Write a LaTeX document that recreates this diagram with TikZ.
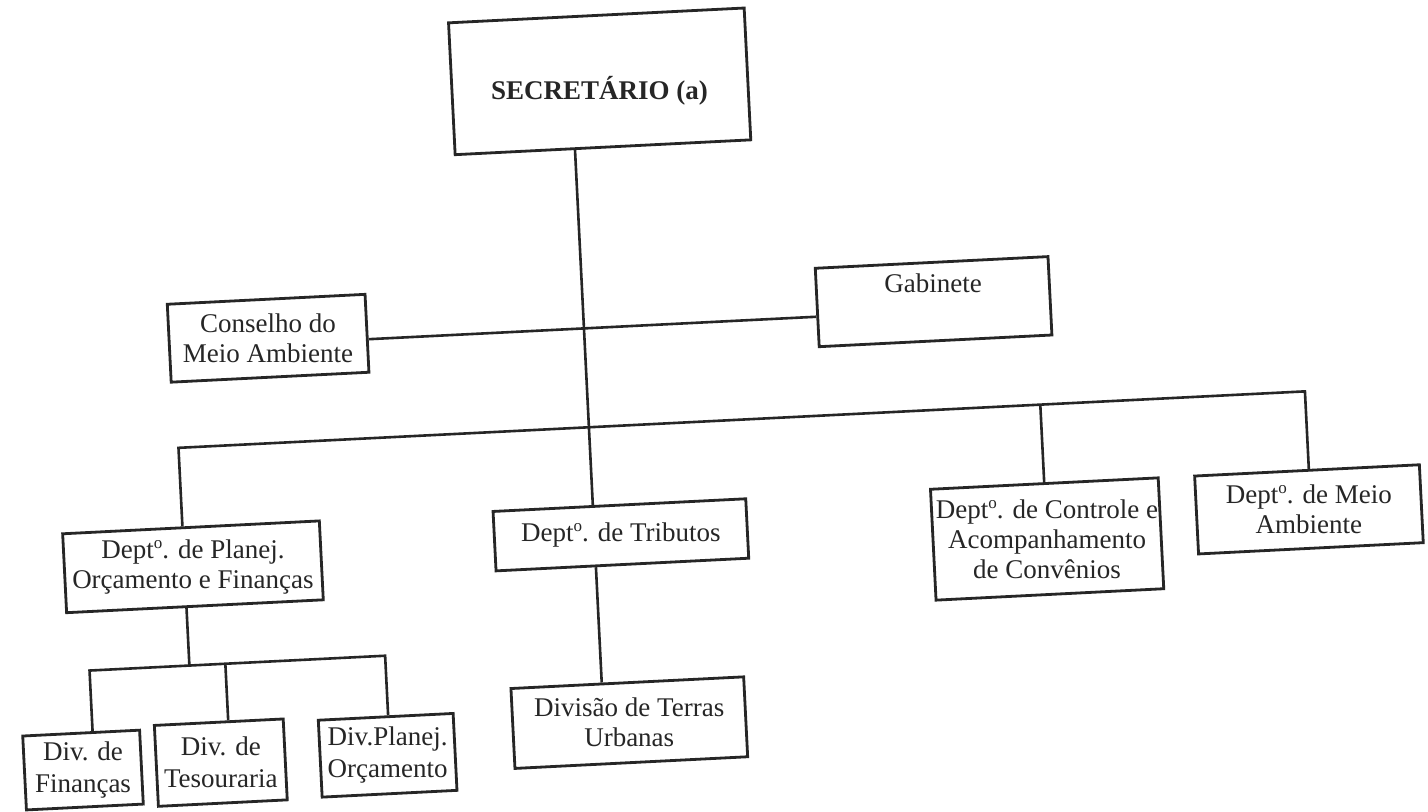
\documentclass[tikz,border=0pt]{standalone}
\usepackage{fontspec}
\setmainfont{Liberation Serif}
\usetikzlibrary{calc}
\newcommand{\ordo}{\raisebox{0.8ex}{\fontsize{8.5pt}{8.5pt}\selectfont o}}
\begin{document}
\begin{tikzpicture}[x=0.5pt,y=-0.5pt,
  box/.style={draw=black!85, line width=1.4pt, inner sep=0pt, transform shape},
  txt/.style={inner sep=0pt, align=center, text=black!85, font=\fontsize{13.5pt}{15pt}\selectfont},
  conn/.style={draw=black!85, line width=1.3pt}]
\fill[white] (0,0) rectangle (1428,811);
\useasboundingbox (0,0) rectangle (1428,811);
\begin{scope}[rotate around={2.87:(714,405)}]
% boxes
\node[box, minimum width=148pt, minimum height=66pt] (sec) at (616,76) {};
\node[box, minimum width=99pt, minimum height=39pt] (cons) at (272,316) {};
\node[box, minimum width=116.5pt, minimum height=39.25pt] (gab) at (938.5,312.75) {};
\node[box, minimum width=128.5pt, minimum height=39.5pt] (plan) at (185.5,540.5) {};
\node[box, minimum width=126.5pt, minimum height=29.75pt] (trib) at (614.5,530) {};
\node[box, minimum width=114pt, minimum height=55.5pt] (ctrl) at (1040,555.5) {};
\node[box, minimum width=112.5pt, minimum height=39pt] (meio) at (1303,539) {};
\node[box, minimum width=116.5pt, minimum height=40pt] (divt) at (613.5,718) {};
\node[box, minimum width=58.5pt, minimum height=37pt] (fin) at (65.5,738) {};
\node[box, minimum width=64.5pt, minimum height=40.5pt] (tes) at (203.5,737.5) {};
\node[box, minimum width=67.5pt, minimum height=38.5pt] (dpo) at (370.5,738.5) {};
% texts
\node[txt, text height=18pt, text depth=0pt, font=\bfseries\fontsize{13.5pt}{15pt}\selectfont]
  (secT) at (sec.center) {SECRETÁRIO (a)};
\node[txt] (consT) at (cons.center) {Conselho do\\Meio Ambiente};
\node[txt, anchor=base] (gabT) at (938.5,304) {Gabinete};
\node[txt] (planT) at (plan.center) {Dept\ordo. de Planej.\\Orçamento e Finanças};
\node[txt] (tribT) at (trib.center) {Dept\ordo. de Tributos};
\node[txt] (ctrlT) at (ctrl.center) {Dept\ordo. de Controle e\\Acompanhamento\\de Convênios};
\node[txt] (meioT) at (meio.center) {Dept\ordo. de Meio\\Ambiente};
\node[txt] (divtT) at (divt.center) {Divisão de Terras\\Urbanas};
\node[txt, font=\fontsize{13.5pt}{16pt}\selectfont] (finT) at (fin.center) {Div. de\\Finanças};
\node[txt, font=\fontsize{13.5pt}{16pt}\selectfont] (tesT) at (tes.center) {Div. de\\Tesouraria};
\node[txt, font=\fontsize{13.5pt}{16pt}\selectfont] (dpoT) at (dpo.center) {Div.Planej.\\Orçamento};
% junction coordinates
\coordinate (j1) at (588,322);
\coordinate (j2) at (588,421);
\coordinate (busL) at (177,421);
\coordinate (busR) at (1305,421);
\coordinate (sbL) at (77,639);
\coordinate (sbJ) at (177,639);
\coordinate (sbT) at (213,639);
\coordinate (sbR) at (373,639);
% connectors
\draw[conn] (sec.south -| j2) -- (trib.north -| j2);
\draw[conn] (cons.east |- j1) -- (gab.west |- j1);
\draw[conn] (plan.north -| busL) -- (busL) -- (busR) -- (meio.north -| busR);
\draw[conn] (ctrl.north) -- (ctrl.north |- busL);
\draw[conn] (trib.south -| j2) -- (divt.north -| j2);
\draw[conn] (plan.south -| sbJ) -- (sbJ);
\draw[conn] (fin.north -| sbL) -- (sbL) -- (sbR) -- (dpo.north -| sbR);
\draw[conn] (sbT) -- (tes.north -| sbT);
\end{scope}
\end{tikzpicture}
\end{document}
